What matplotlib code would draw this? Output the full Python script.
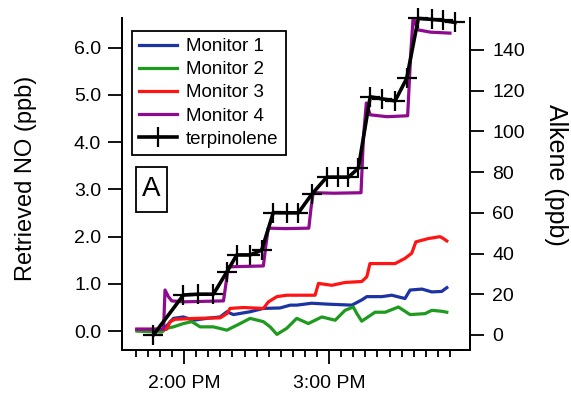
import matplotlib
matplotlib.use("Agg")
import matplotlib.pyplot as plt
from matplotlib.patches import Rectangle

plt.rcParams['font.family'] = ['Liberation Sans', 'DejaVu Sans']

# time is in minutes after 2:00 PM
t_m1 = [-19.5, -9.2, -4.4, -0.3, 3.8, 9.4, 14.9, 17.7, 20.4, 27.3, 32.8, 39.7, 43.9, 46.6, 52.8, 59.7, 69.4, 73.5, 75.6, 81.8, 85.9, 91.4, 93.5, 98.4, 102.5, 106.6, 108.7]
no_m1 = [0.02, 0.0, 0.27, 0.30, 0.23, 0.27, 0.30, 0.41, 0.35, 0.41, 0.48, 0.49, 0.55, 0.55, 0.59, 0.57, 0.55, 0.66, 0.73, 0.73, 0.76, 0.69, 0.87, 0.89, 0.83, 0.84, 0.92]

t_m2 = [-19.5, -9.2, -7.2, -4.4, -0.3, 3.2, 6.6, 12.1, 17.7, 23.2, 27.3, 32.8, 35.6, 38.4, 42.5, 46.6, 51.4, 57, 62.5, 66.6, 70, 71.5, 73.5, 79, 83.2, 88.7, 93.5, 99.7, 102.5, 106.6, 108.7]
no_m2 = [0.0, -0.02, 0.06, 0.09, 0.16, 0.20, 0.09, 0.09, 0.02, 0.16, 0.27, 0.20, 0.09, -0.07, 0.06, 0.27, 0.16, 0.30, 0.23, 0.44, 0.51, 0.37, 0.21, 0.40, 0.40, 0.51, 0.35, 0.37, 0.44, 0.42, 0.40]

t_m3 = [-19.5, -7.2, -5.8, -3.7, 5.2, 14.9, 17.7, 19, 24.5, 32.8, 34.9, 38.4, 42.5, 54.2, 55.6, 61.1, 66.6, 73.5, 75.6, 76.9, 81.8, 87.3, 91.4, 94.2, 95.9, 101.1, 105.9, 107.3, 108.7]
no_m3 = [0.04, 0.04, 0.20, 0.25, 0.27, 0.28, 0.37, 0.48, 0.50, 0.48, 0.62, 0.73, 0.76, 0.76, 1.01, 0.97, 1.03, 1.05, 1.15, 1.43, 1.43, 1.43, 1.54, 1.65, 1.89, 1.96, 2.0, 1.96, 1.91]

t_m4 = [-19.6, -8.5, -7.9, -6.5, -5.1, 0, 8, 16.3, 17.3, 18.3, 25, 32.8, 33.8, 34.8, 42, 51.6, 52.5, 53.4, 62, 73.2, 74.2, 75.4, 77, 84, 92.5, 93.8, 94.8, 96.6, 102, 110]
no_m4 = [0.04, 0.04, 0.87, 0.73, 0.64, 0.62, 0.63, 0.64, 1.0, 1.36, 1.37, 1.38, 1.8, 2.18, 2.17, 2.18, 2.6, 2.93, 2.92, 2.93, 4.1, 4.83, 4.58, 4.54, 4.56, 5.9, 6.66, 6.38, 6.33, 6.31]

t_terp = [-12.7, -0.3, 5.9, 12.1, 17.7, 21.8, 27.3, 32.1, 36.9, 42.5, 47.3, 52.8, 59.0, 63.8, 68.0, 72.1, 77.0, 81.8, 87.3, 92.1, 96.9, 102.5, 107.3, 112.1]
alk_terp = [0, 19.6, 20, 20, 31, 39.3, 39.3, 41.7, 60.1, 60, 60, 69.1, 77.5, 77.5, 77.5, 81.9, 117, 116, 115, 126, 155.5, 155, 154.5, 153.5]

major_t = [0, 60]
major_labels = ['2:00 PM', '3:00 PM']
minor_t = list(range(-20, 115, 5))

fig = plt.figure(figsize=(5.71, 3.99), dpi=100)
ax = fig.add_axes([122/571, 1 - 350/399, 348/571, 332/399])
ax2 = ax.twinx()

l1, = ax.plot(t_m1, no_m1, color='#1c34a3', lw=2.3, label='Monitor 1')
l2, = ax.plot(t_m2, no_m2, color='#1e9a1e', lw=2.3, label='Monitor 2')
l3, = ax.plot(t_m3, no_m3, color='#ff1414', lw=2.3, label='Monitor 3')
l4, = ax.plot(t_m4, no_m4, color='#8e0a8e', lw=2.3, label='Monitor 4')
l5, = ax2.plot(t_terp, alk_terp, color='black', lw=2.6, marker='+', ms=14.5, mew=1.6,
               label='terpinolene', clip_on=False)

ax.set_xlim(-25.7, 118.3)
ax.set_ylim(-0.40, 6.63)
ax2.set_ylim(-7.4, 155.7)

ax.set_xticks(major_t)
ax.set_xticklabels(major_labels)
ax.set_xticks(minor_t, minor=True)
ax.set_yticks([0, 1, 2, 3, 4, 5, 6])
ax.set_yticklabels(['0.0', '1.0', '2.0', '3.0', '4.0', '5.0', '6.0'])
ax2.set_yticks([0, 20, 40, 60, 80, 100, 120, 140])

for a in (ax, ax2):
    a.spines['top'].set_visible(False)
    for s in a.spines.values():
        s.set_linewidth(1.4)
ax.tick_params(axis='both', which='major', length=10, width=1.3, labelsize=14, pad=5)
ax.tick_params(axis='x', which='major', pad=8)
ax.tick_params(axis='x', which='minor', length=5, width=1.3)
ax2.tick_params(axis='y', length=10, width=1.3, labelsize=14, pad=6)

ax.set_ylabel('Retrieved NO (ppb)', fontsize=17)
ax.yaxis.set_label_coords(-0.244, 0.518)
ax2.set_ylabel('Alkene (ppb)', fontsize=18, rotation=270)
ax2.yaxis.set_label_coords(1.282, 0.527)

leg = ax2.legend(handles=[l1, l2, l3, l4, l5], loc='upper left', bbox_to_anchor=(0.028, 0.962),
                 borderaxespad=0, fontsize=13.5, frameon=True, fancybox=False, framealpha=1,
                 edgecolor='black', handlelength=2.0, handletextpad=0.5, borderpad=0.4,
                 labelspacing=0.32)
leg.get_frame().set_linewidth(1.3)

# "A" panel tag
ax2.add_patch(Rectangle((0.040, 0.416), 0.089, 0.136, transform=ax2.transAxes,
                        fc='white', ec='black', lw=1.3))
ax2.text(0.0845, 0.484, 'A', transform=ax2.transAxes, fontsize=20, ha='center', va='center')

fig.savefig('out.png', dpi=100)
